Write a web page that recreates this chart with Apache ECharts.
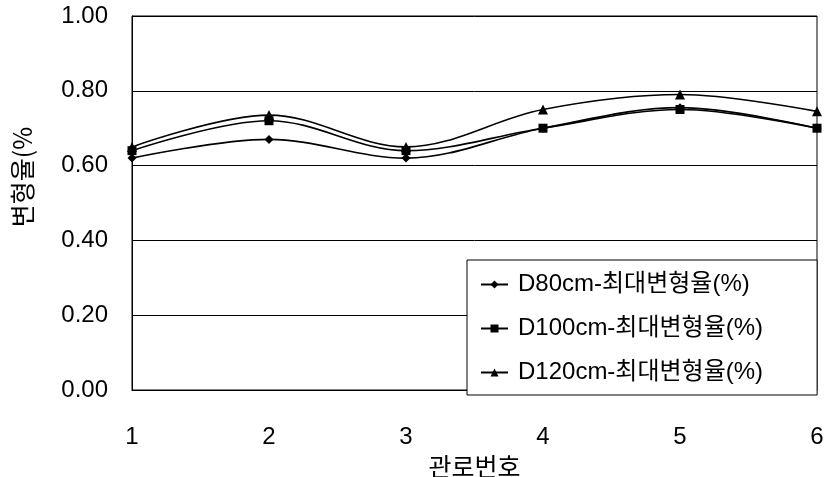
<!DOCTYPE html>
<html>
<head>
<meta charset="utf-8">
<script src="https://cdn.jsdelivr.net/npm/echarts@6/dist/echarts.min.js"></script>
<style>
  html, body { margin: 0; padding: 0; background: #fff; }
  #chart { width: 828px; height: 477px; }
</style>
</head>
<body>
<div id="chart"></div>
<script>
// 관로번호
let pipeNo = ["1", "2", "3", "4", "5", "6"];
// 최대변형율(%)
let d80 = [0.62, 0.67, 0.62, 0.70, 0.755, 0.70];
let d100 = [0.64, 0.72, 0.64, 0.70, 0.75, 0.70];
let d120 = [0.65, 0.735, 0.65, 0.75, 0.79, 0.745];
let seriesNames = ["D80cm-최대변형율(%)", "D100cm-최대변형율(%)", "D120cm-최대변형율(%)"];

let font = "Liberation Sans, Arial, Noto Sans CJK KR, sans-serif";

function makeLine(name, data, symbol, size) {
  return {
    name: name,
    type: "line",
    data: data,
    smooth: 0.35,
    symbol: symbol,
    symbolSize: size,
    lineStyle: { color: "#000", width: 1.6 },
    itemStyle: { color: "#000" },
    animation: false,
  };
}

let chart = echarts.init(document.getElementById("chart"));
chart.setOption({
  backgroundColor: "#fff",
  textStyle: { fontFamily: font },
  grid: {
    left: 132,
    right: 11,
    top: 16,
    bottom: 87,
    outerBoundsMode: "none",
    containLabel: false,
    show: true,
    borderColor: "#000",
    borderWidth: 1,
  },
  legend: {
    orient: "vertical",
    left: 467,
    top: 260,
    data: seriesNames,
    itemWidth: 27,
    itemHeight: 10,
    itemGap: 19,
    padding: [12, 54, 10, 13],
    borderColor: "#000",
    borderWidth: 1,
    backgroundColor: "#fff",
    textStyle: {
      fontSize: 24,
      lineHeight: 25,
      color: "#000",
      fontFamily: font,
      padding: [0, 0, 0, 5],
    },
  },
  xAxis: {
    type: "category",
    data: pipeNo,
    boundaryGap: false,
    name: "관로번호",
    nameLocation: "middle",
    nameGap: 58,
    nameTextStyle: { fontSize: 25, color: "#000", fontFamily: "Noto Sans CJK KR" },
    axisLine: { lineStyle: { color: "#000", width: 1 } },
    axisTick: { show: false },
    axisLabel: { fontSize: 24, color: "#000", margin: 35 },
    splitLine: { show: false },
  },
  yAxis: {
    type: "value",
    min: 0,
    max: 1,
    interval: 0.2,
    axisLine: { show: true, lineStyle: { color: "#000", width: 1 } },
    axisTick: { show: false },
    axisLabel: {
      fontSize: 24,
      color: "#000",
      margin: 24,
      formatter: function (v) {
        return v.toFixed(2);
      },
    },
    splitLine: { show: true, lineStyle: { color: "#000", width: 1 } },
  },
  graphic: [
    {
      type: "text",
      x: 22,
      y: 177,
      rotation: Math.PI / 2,
      style: {
        text: "변형율(%",
        fill: "#000",
        font: "25px Noto Sans CJK KR",
        textAlign: "center",
        textVerticalAlign: "middle",
      },
    },
  ],
  series: [
    makeLine(seriesNames[0], d80, "diamond", 9),
    makeLine(seriesNames[1], d100, "rect", 9),
    makeLine(seriesNames[2], d120, "triangle", 10),
  ],
});
</script>
</body>
</html>
